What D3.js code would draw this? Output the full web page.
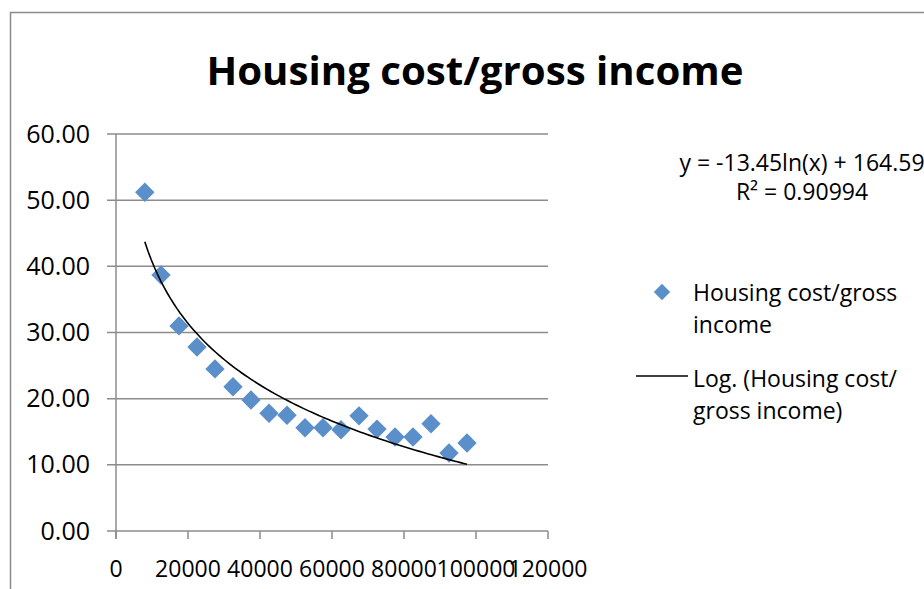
<!DOCTYPE html>
<html><head><meta charset="utf-8">
<script src="https://cdn.jsdelivr.net/npm/d3@7"></script>
<style>body{margin:0;background:#fff}svg{display:block}</style>
</head><body>
<svg id="c" width="924" height="589"></svg>
<script>
const title = "Housing cost/gross income";
const incomes = [8000,12500,17500,22500,27500,32500,37500,42500,47500,52500,57500,62500,67500,72500,77500,82500,87500,92500,97500];
const ratios = [51.2,38.7,31.0,27.8,24.5,21.8,19.8,17.8,17.5,15.6,15.6,15.3,17.4,15.4,14.2,14.2,16.2,11.8,13.3];
const yTicks = [0,10,20,30,40,50,60];
const xTicks = [0,20000,40000,60000,80000,100000,120000];
const trendA = -13.45, trendB = 164.59;
const eqText = "y = -13.45ln(x) + 164.59";
const r2Text = "R\u00b2 = 0.90994";
const legendSeries = ["Housing cost/gross", "income"];
const legendTrend = ["Log. (Housing cost/", "gross income)"];

const font = "'Open Sans', Lato, sans-serif";
const svg = d3.select("#c");
const x = d3.scaleLinear().domain([0,120000]).range([116,548]);
const y = d3.scaleLinear().domain([0,60]).range([531,134]);

svg.append("rect").attr("x",10.5).attr("y",12.5).attr("width",940).attr("height",600)
  .attr("fill","none").attr("stroke","#8a8a8a").attr("stroke-width",1.5);

svg.append("text").attr("x",475).attr("y",85).attr("text-anchor","middle")
  .attr("font-family",font).attr("font-weight","bold").attr("font-size",40.2)
  .attr("fill","#000").text(title);

const gridC = "#8c8c8c";
svg.append("g").selectAll("line").data(yTicks).join("line")
  .attr("x1",107).attr("x2",548).attr("y1",d=>y(d)).attr("y2",d=>y(d))
  .attr("stroke",gridC).attr("stroke-width",1.5);
svg.append("line").attr("x1",x(0)).attr("x2",x(0)).attr("y1",y(60)).attr("y2",539)
  .attr("stroke",gridC).attr("stroke-width",1.5);
svg.append("g").selectAll("line").data(xTicks).join("line")
  .attr("x1",d=>x(d)).attr("x2",d=>x(d)).attr("y1",y(0)).attr("y2",539)
  .attr("stroke",gridC).attr("stroke-width",1.5);

svg.append("g").selectAll("text").data(yTicks).join("text")
  .attr("x",90).attr("y",d=>y(d)+8.5).attr("text-anchor","end")
  .attr("font-family",font).attr("font-size",25).attr("fill","#000")
  .text(d=>d.toFixed(2));
svg.append("g").selectAll("text").data(xTicks).join("text")
  .attr("x",d=>x(d)).attr("y",577).attr("text-anchor","middle")
  .attr("font-family",font).attr("font-size",23).attr("fill","#000")
  .text(d=>String(d));

const mColor = "#5b8fc9";
const diamond = d3.symbol().type(d3.symbolDiamond2).size(240);
const data = incomes.map((v,i)=>({x:v,y:ratios[i]}));
svg.append("g").selectAll("path").data(data).join("path")
  .attr("d",diamond).attr("transform",d=>`translate(${x(d.x)},${y(d.y)})`)
  .attr("fill",mColor);

const tx = d3.range(0,101).map(i=>incomes[0]+(incomes[incomes.length-1]-incomes[0])*i/100);
const line = d3.line().x(d=>x(d)).y(d=>y(trendA*Math.log(d)+trendB));
svg.append("path").attr("d",line(tx)).attr("fill","none").attr("stroke","#000").attr("stroke-width",1.6);

svg.append("text").attr("x",802).attr("y",171).attr("text-anchor","middle")
  .attr("font-family",font).attr("font-size",23).attr("fill","#000").text(eqText);
svg.append("text").attr("x",802).attr("y",200).attr("text-anchor","middle")
  .attr("font-family",font).attr("font-size",23).attr("fill","#000").text(r2Text);

svg.append("path").attr("d",d3.symbol().type(d3.symbolDiamond2).size(170))
  .attr("transform","translate(662,292)").attr("fill",mColor);
svg.append("g").selectAll("text").data(legendSeries).join("text")
  .attr("x",693).attr("y",(d,i)=>301+i*32)
  .attr("font-family",font).attr("font-size",23).attr("fill","#000").text(d=>d);
svg.append("line").attr("x1",636).attr("x2",688).attr("y1",376).attr("y2",376)
  .attr("stroke","#000").attr("stroke-width",1.6);
svg.append("g").selectAll("text").data(legendTrend).join("text")
  .attr("x",693).attr("y",(d,i)=>387+i*32)
  .attr("font-family",font).attr("font-size",23).attr("fill","#000").text(d=>d);
</script>
</body></html>
